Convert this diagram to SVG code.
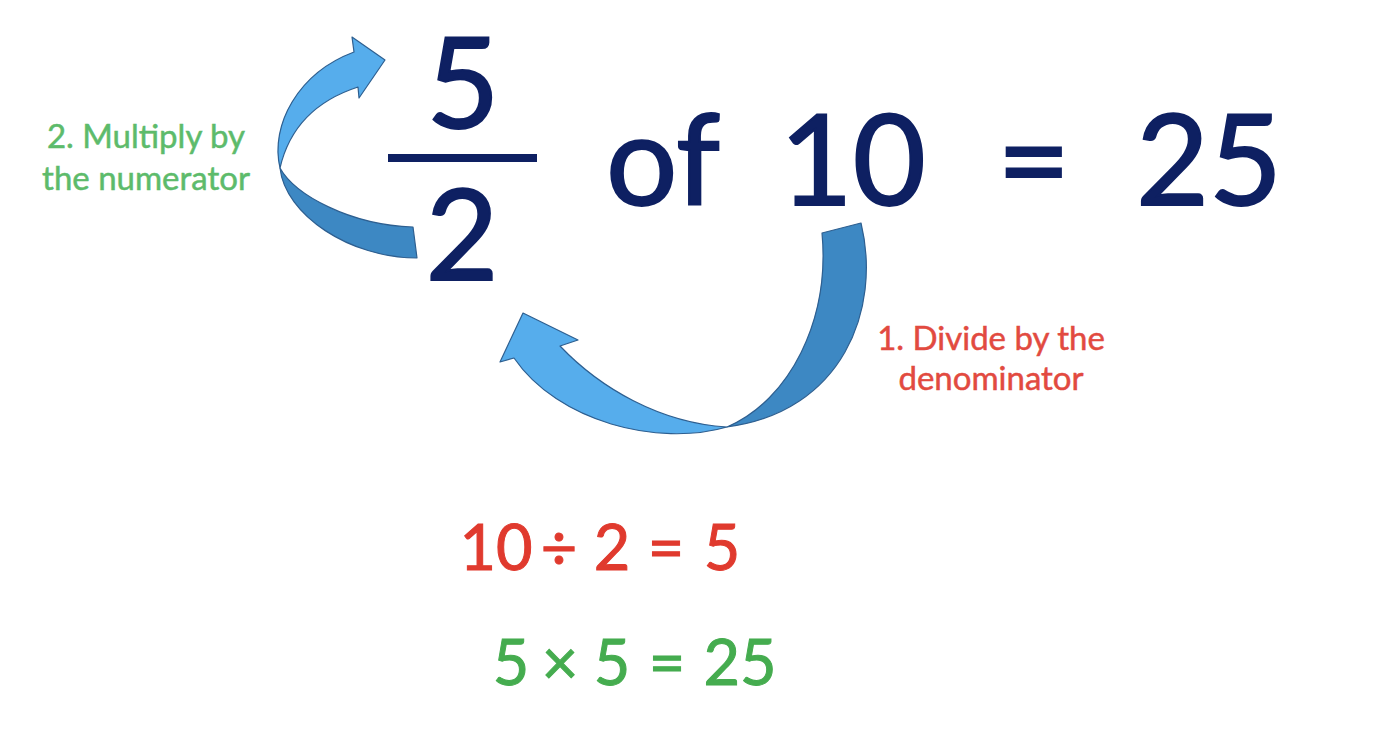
<svg xmlns="http://www.w3.org/2000/svg" width="1378" height="746" viewBox="0 0 1378 746">
<style>
.big{font-family:Lato,"Open Sans","Liberation Sans",sans-serif;font-size:126px;fill:#0e2062;stroke:#0e2062;stroke-width:2;text-anchor:middle}
.lbl{font-family:Lato,"Open Sans","Liberation Sans",sans-serif;font-size:33px;text-anchor:middle;stroke-width:0.5}
.eq{font-family:Lato,"Open Sans","Liberation Sans",sans-serif;font-size:63px;text-anchor:middle;stroke-width:1}
.light{fill:#56adec;stroke:#2e5f90;stroke-width:1.2;stroke-linejoin:round}
.dark{fill:#3d88c3;stroke:#2e5f90;stroke-width:1.2;stroke-linejoin:round}
</style>
<rect width="1378" height="746" fill="#ffffff"/>
<g id="connectors">
  <g id="arrow-multiply">
    <path class="dark" d="M417,258 C350,258 285,215 280,168 C295,195 350,225 413,227 Z"/>
    <path class="light" d="M280,168 C270,125 298,73 354,52 L352,37 L385,60 L359,98 L358,87 C318,100 290,125 280,168 Z"/>
  </g>
  <g id="arrow-divide">
    <path class="dark" d="M861,223 C882,310 842,412 727,427 C790,400 830,320 822,233 Z"/>
    <path class="light" d="M727,427 C658,447 558,422 514,358 L500,362 L523,313 L578,340 L560,346 C600,388 660,423 727,427 Z"/>
  </g>
</g>
<g id="fraction">
  <text class="big" x="463" y="128">5</text>
  <rect x="388" y="154" width="149" height="8" fill="#0e2062"/>
  <text class="big" x="462" y="280">2</text>
</g>
<g id="expression">
  <text class="big" y="205"><tspan x="678">of</tspan> <tspan x="869">10</tspan> <tspan x="1050">=</tspan> <tspan x="1209">25</tspan></text>
</g>
<g id="label-multiply">
  <text class="lbl" fill="#5dbb6b" stroke="#5dbb6b"><tspan x="146" y="148">2. Multiply by</tspan><tspan x="146" y="190">the numerator</tspan></text>
</g>
<g id="label-divide">
  <text class="lbl" fill="#e24a40" stroke="#e24a40"><tspan x="991" y="350">1. Divide by the</tspan><tspan x="991" y="390">denominator</tspan></text>
</g>
<g id="equation-divide">
  <text class="eq" fill="#e03a2e" stroke="#e03a2e" y="570"><tspan x="504">10</tspan> <tspan x="567">÷</tspan> <tspan x="620">2</tspan> <tspan x="674">=</tspan> <tspan x="722">5</tspan></text>
</g>
<g id="equation-multiply">
  <text class="eq" fill="#45ac4f" stroke="#45ac4f" y="685"><tspan x="519">5</tspan> <tspan x="568">×</tspan> <tspan x="620">5</tspan> <tspan x="675">=</tspan> <tspan x="740">25</tspan></text>
</g>
</svg>
